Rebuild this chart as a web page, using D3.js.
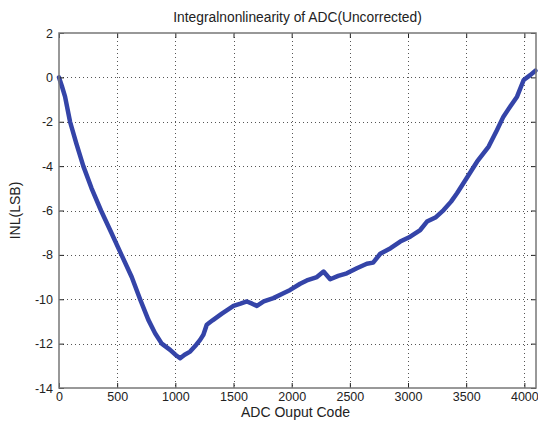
<!DOCTYPE html>
<html>
<head>
<meta charset="utf-8">
<style>
body { margin: 0; background: #fff; }
svg { display: block; font-family: "Liberation Sans", Arial, sans-serif; }
.tick text { font-size: 12.5px; fill: #222; }
</style>
</head>
<body>
<svg width="538" height="425"></svg>
<script src="https://d3js.org/d3.v7.min.js"></script>
<script>
// values
var codes = [0, 25, 52, 95, 150, 209, 280, 361, 450, 537, 625, 697, 768, 826, 883, 955, 1000, 1041, 1080, 1127,
             1180, 1213, 1241, 1270, 1320, 1400, 1500, 1560, 1615, 1660, 1701, 1760, 1843, 1920, 1987, 2073,
             2130, 2217, 2274, 2331, 2400, 2474, 2560, 2646, 2700, 2761, 2850, 2933, 3019, 3105, 3163, 3240,
             3306, 3370, 3421, 3521, 3593, 3693, 3765, 3820, 3880, 3937, 3994, 4050, 4095];
var inl = [0, -0.4, -0.87, -2.0, -3.0, -4.0, -5.0, -6.0, -7.0, -8.0, -9.0, -10.0, -10.93, -11.53, -12.0, -12.28,
           -12.5, -12.66, -12.5, -12.36, -12.05, -11.83, -11.6, -11.15, -10.95, -10.65, -10.3, -10.2, -10.1,
           -10.2, -10.3, -10.1, -9.95, -9.75, -9.58, -9.3, -9.15, -9.0, -8.75, -9.1, -8.95, -8.83, -8.6, -8.4,
           -8.35, -7.95, -7.7, -7.4, -7.18, -6.88, -6.5, -6.3, -5.98, -5.6, -5.22, -4.4, -3.8, -3.12, -2.37,
           -1.77, -1.3, -0.87, -0.12, 0.1, 0.3];
var xTicks = [0, 500, 1000, 1500, 2000, 2500, 3000, 3500, 4000];
var yTicks = [2, 0, -2, -4, -6, -8, -10, -12, -14];

var svg = d3.select("svg");
var pl = 59, pr = 536, pt = 33, pb = 388;

var x = d3.scaleLinear().domain([0, 4100]).range([pl, pr]);
var y = d3.scaleLinear().domain([-14, 2]).range([pb, pt]);

// grid
var grid = svg.append("g").attr("stroke", "#555").attr("stroke-width", 1).attr("stroke-dasharray", "1,3");
grid.selectAll("line.gx").data(xTicks.slice(1)).enter().append("line")
    .attr("x1", function(d) { return Math.round(x(d)) + 0.5; })
    .attr("x2", function(d) { return Math.round(x(d)) + 0.5; })
    .attr("y1", pt).attr("y2", pb);
grid.selectAll("line.gy").data(yTicks.slice(1, -1)).enter().append("line")
    .attr("y1", function(d) { return Math.round(y(d)) + 0.5; })
    .attr("y2", function(d) { return Math.round(y(d)) + 0.5; })
    .attr("x1", pl).attr("x2", pr);

// data
var pts = codes.map(function(c, i) { return [c, inl[i]]; });
var line = d3.line().x(function(d) { return x(d[0]); }).y(function(d) { return y(d[1]); });
svg.append("path")
    .datum(pts)
    .attr("d", line)
    .attr("fill", "none")
    .attr("stroke", "#3444a8")
    .attr("stroke-width", 4.5)
    .attr("stroke-linejoin", "round")
    .attr("stroke-linecap", "round");

// axes (ticks inward on all four sides)
var xb = svg.append("g").attr("transform", "translate(0," + pb + ")")
    .call(d3.axisBottom(x).tickValues(xTicks).tickSize(-5).tickPadding(4).tickFormat(d3.format("d")));
var xt = svg.append("g").attr("transform", "translate(0," + pt + ")")
    .call(d3.axisTop(x).tickValues(xTicks).tickSize(-5).tickFormat(""));
var yl = svg.append("g").attr("transform", "translate(" + pl + ",0)")
    .call(d3.axisLeft(y).tickValues(yTicks).tickSize(-5).tickPadding(6).tickFormat(d3.format("d")));
var yr = svg.append("g").attr("transform", "translate(" + pr + ",0)")
    .call(d3.axisRight(y).tickValues(yTicks).tickSize(-5).tickFormat(""));
[xb, xt, yl, yr].forEach(function(a) {
  a.select(".domain").remove();
  a.selectAll(".tick line").attr("stroke", "#222");
});
yl.selectAll(".tick text").text(function(d) { return d < 0 ? "-" + Math.abs(d) : d; });

svg.append("rect")
    .attr("x", pl).attr("y", pt)
    .attr("width", pr - pl).attr("height", pb - pt)
    .attr("fill", "none").attr("stroke", "#777").attr("stroke-width", 1.5);

// labels
svg.append("text").attr("x", (pl + pr) / 2).attr("y", 22)
    .attr("text-anchor", "middle").attr("font-size", 13.8).attr("fill", "#222")
    .text("Integralnonlinearity of ADC(Uncorrected)");
svg.append("text").attr("x", (pl + pr) / 2 - 2).attr("y", 417)
    .attr("text-anchor", "middle").attr("font-size", 14).attr("fill", "#222")
    .text("ADC Ouput Code");
svg.append("text").attr("transform", "translate(20," + (pt + pb) / 2 + ") rotate(-90)")
    .attr("text-anchor", "middle").attr("font-size", 14).attr("fill", "#222")
    .text("INL(LSB)");
</script>
</body>
</html>
